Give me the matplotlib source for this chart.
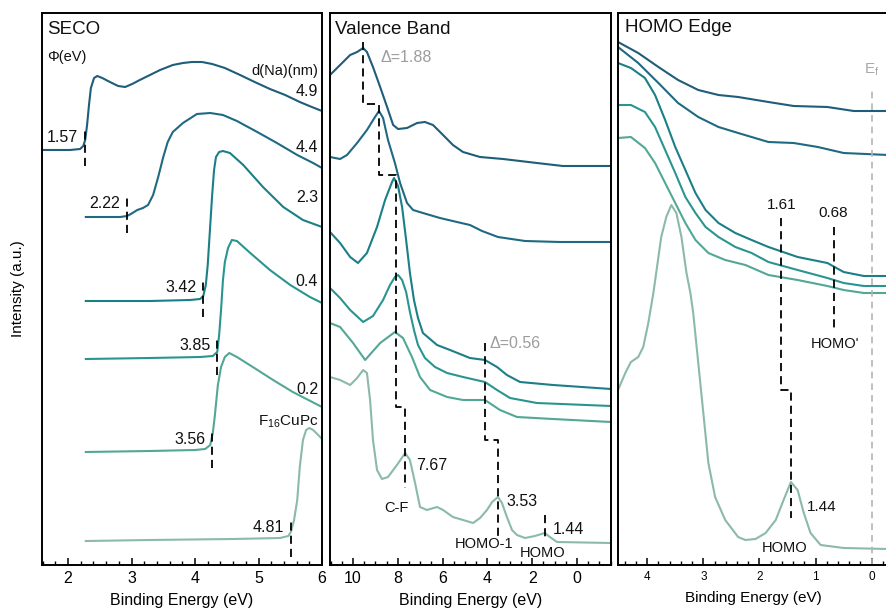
import matplotlib
matplotlib.use("Agg")
import matplotlib.pyplot as plt
from matplotlib.ticker import MultipleLocator

plt.rcParams['font.family'] = ['Liberation Sans', 'DejaVu Sans']
plt.rcParams['mathtext.fontset'] = 'custom'
plt.rcParams['mathtext.rm'] = 'Liberation Sans'
plt.rcParams['mathtext.it'] = 'Liberation Sans:italic'

# Na thickness (nm) for each spectrum, thickest first; last one is bare F16CuPc
thickness = ['4.9', '4.4', '2.3', '0.4', '0.2']
colors = ['#1f5d7a', '#1f6a82', '#1b7f88', '#2a9590', '#52a796', '#8bbaa8']

# ---- SECO spectra: binding energy (eV), intensity (a.u., stacked)
seco_x_49 = [1.59, 2.03, 2.19, 2.24, 2.27, 2.30, 2.33, 2.36, 2.41, 2.46, 2.54, 2.66, 2.79, 2.90, 3.01, 3.13,
             3.29, 3.45, 3.65, 3.81, 3.95, 4.11, 4.27, 4.47, 4.71, 4.94, 5.18, 5.42, 5.65, 5.84, 6.0]
seco_y_49 = [415, 415, 416, 419, 425, 440, 460, 477, 487, 489, 487, 483, 479, 478, 481, 485,
             490, 495, 500, 502, 503, 503, 501, 497, 490, 483, 476, 470, 463, 458, 454]
seco_x_44 = [2.28, 2.82, 2.93, 2.99, 3.09, 3.18, 3.26, 3.34, 3.42, 3.50, 3.57, 3.65, 3.81, 4.03, 4.24, 4.44,
             4.66, 4.98, 5.29, 5.61, 5.86, 6.0]
seco_y_44 = [348, 348, 349, 351, 355, 357, 360, 370, 388, 408, 423, 433, 442, 451, 452, 450,
             444, 433, 422, 410, 402, 397]
seco_x_23 = [2.28, 3.29, 3.92, 4.08, 4.13, 4.17, 4.20, 4.24, 4.27, 4.30, 4.33, 4.38, 4.44, 4.55, 4.76, 5.07,
             5.39, 5.70, 6.0]
seco_y_23 = [264, 264, 265, 266, 269, 280, 300, 340, 370, 395, 408, 413, 414, 412, 400, 378,
             358, 345, 338]
seco_x_04 = [2.28, 3.29, 4.08, 4.28, 4.35, 4.38, 4.41, 4.44, 4.47, 4.52, 4.58, 4.66, 4.87, 5.18, 5.50, 5.81, 6.0]
seco_y_04 = [206, 207, 208, 209, 213, 230, 255, 285, 303, 317, 325, 324, 312, 295, 280, 268, 262]
seco_x_02 = [2.28, 3.29, 4.0, 4.16, 4.24, 4.28, 4.31, 4.36, 4.41, 4.47, 4.54, 4.66, 4.91, 5.23, 5.54, 6.0]
seco_y_02 = [113, 114, 115, 116, 120, 132, 148, 180, 198, 208, 212, 208, 198, 185, 173, 158]
seco_x_pc = [2.28, 3.29, 4.60, 5.34, 5.47, 5.51, 5.56, 5.61, 5.65, 5.70, 5.75, 5.80, 5.86, 5.94, 6.0]
seco_y_pc = [24, 25, 26, 27, 29, 33, 45, 65, 98, 125, 135, 137, 135, 130, 126]

# work function labels and the cutoff position marked on each SECO
phi_labels = ['1.57', '2.22', '3.42', '3.85', '3.56', '4.81']
cutoff_x = [2.27, 2.93, 4.13, 4.35, 4.27, 5.51]

# ---- valence band spectra
vb_x_49 = [11.03, 10.58, 10.13, 9.82, 9.55, 9.38, 9.11, 8.79, 8.48, 8.21, 7.99, 7.59, 7.14, 6.79, 6.43, 5.98,
           5.54, 5.09, 4.33, 3.30, 1.79, 0.63, -1.52]
vb_y_49 = [490, 500, 510, 513, 517, 513, 498, 478, 458, 440, 436, 437, 442, 443, 440, 430,
           420, 413, 408, 406, 402, 399, 399]
vb_x_44 = [11.03, 10.58, 10.27, 9.82, 9.38, 9.02, 8.84, 8.66, 8.44, 8.13, 7.90, 7.59, 7.32, 6.88, 6.12, 5.36,
           4.78, 4.24, 3.53, 2.32, 0.76, -1.52]
vb_y_44 = [408, 406, 410, 422, 435, 448, 454, 447, 425, 402, 382, 362, 355, 352, 347, 343,
           340, 334, 328, 324, 323, 323]
vb_x_23 = [11.03, 10.58, 10.13, 9.78, 9.38, 8.93, 8.57, 8.26, 8.17, 7.99, 7.81, 7.63, 7.46, 7.28, 7.10, 6.88,
           6.25, 5.67, 4.78, 4.11, 3.57, 3.13, 2.54, 1.07, -1.52]
vb_y_23 = [333, 322, 308, 302, 312, 338, 365, 383, 387, 379, 358, 325, 292, 265, 247, 232,
           220, 215, 207, 205, 198, 190, 183, 180, 176]
vb_x_04 = [11.03, 10.58, 10.13, 9.55, 9.11, 8.66, 8.35, 8.13, 7.99, 7.81, 7.63, 7.46, 7.28, 7.10, 6.79, 6.34,
           5.80, 5.09, 4.11, 3.57, 2.99, 1.79, -1.52]
vb_y_04 = [277, 267, 255, 243, 249, 265, 280, 288, 290, 285, 273, 253, 235, 220, 207, 198,
           192, 188, 183, 175, 167, 162, 159]
vb_x_02 = [11.03, 10.58, 10.0, 9.46, 8.79, 8.13, 7.77, 7.37, 7.01, 6.56, 5.80, 5.09, 4.55, 4.11, 3.44, 2.68,
           1.07, -1.52]
vb_y_02 = [242, 238, 222, 205, 222, 233, 227, 208, 188, 175, 168, 165, 165, 165, 155, 148, 146, 143]
vb_x_pc = [11.03, 10.58, 10.13, 9.82, 9.55, 9.38, 9.24, 9.11, 8.93, 8.71, 8.44, 8.04, 7.67, 7.46, 7.23, 7.01,
           6.70, 6.25, 5.98, 5.54, 5.09, 4.64, 4.33, 4.02, 3.79, 3.53, 3.35, 3.13, 2.90, 2.68, 2.32, 1.88,
           1.44, 1.21, 0.89, -1.52]
vb_y_pc = [188, 185, 180, 187, 195, 192, 165, 125, 95, 86, 88, 100, 112, 105, 82, 58,
           55, 58, 55, 48, 45, 42, 47, 55, 63, 68, 62, 48, 35, 30, 27, 29,
           32, 28, 23, 22]

# peak positions (eV)
vb_peak_49 = 9.55
vb_peak_44 = 8.84
vb_peak_mid = 8.10
cf_peak = 7.67
homo1_na = 4.09
homo1_peak = 3.53
homo_peak = 1.44

# ---- HOMO edge region
he_x_49 = [4.52, 4.16, 3.80, 3.45, 3.09, 2.73, 2.38, 1.84, 1.39, 0.79, 0.32, -0.29]
he_y_49 = [523, 512, 498, 485, 475, 470, 468, 463, 459, 458, 454, 454]
he_x_44 = [4.52, 4.16, 3.80, 3.45, 3.09, 2.73, 2.38, 1.84, 1.39, 0.96, 0.50, -0.29]
he_y_44 = [518, 502, 482, 462, 448, 438, 432, 423, 422, 418, 412, 410]
he_x_23 = [4.52, 4.29, 4.04, 3.86, 3.68, 3.50, 3.32, 3.14, 2.96, 2.73, 2.43, 2.14, 1.84, 1.32, 0.79, 0.50,
           0.14, -0.29]
he_y_23 = [502, 497, 487, 470, 445, 418, 395, 372, 355, 342, 332, 325, 318, 308, 302, 293, 289, 289]
he_x_04 = [4.52, 4.29, 4.04, 3.86, 3.68, 3.50, 3.32, 3.14, 2.96, 2.73, 2.43, 2.14, 1.84, 1.32, 0.79, 0.50,
           0.14, -0.29]
he_y_04 = [460, 460, 453, 438, 415, 392, 368, 352, 338, 328, 318, 312, 303, 295, 287, 282, 279, 279]
he_x_02 = [4.52, 4.29, 4.04, 3.86, 3.68, 3.50, 3.32, 3.14, 2.91, 2.61, 2.25, 1.84, 1.32, 0.79, 0.50, 0.14, -0.29]
he_y_02 = [427, 428, 417, 402, 382, 362, 342, 325, 312, 305, 300, 290, 285, 279, 275, 272, 272]
he_x_pc = [4.52, 4.39, 4.29, 4.16, 4.07, 3.98, 3.89, 3.82, 3.75, 3.66, 3.57, 3.48, 3.39, 3.30, 3.23, 3.18,
           3.09, 3.00, 2.91, 2.79, 2.61, 2.38, 2.25, 2.07, 1.89, 1.71, 1.57, 1.44, 1.32, 1.21, 1.09, 0.91,
           0.50, -0.29]
he_y_pc = [175, 192, 203, 208, 218, 242, 272, 300, 328, 348, 360, 352, 328, 292, 272, 252,
           202, 152, 102, 68, 45, 28, 25, 26, 32, 45, 65, 83, 75, 52, 32, 20,
           17, 16]

homo_na = 1.61
homo_prime = 0.68

seco = [(seco_x_49, seco_y_49), (seco_x_44, seco_y_44), (seco_x_23, seco_y_23),
        (seco_x_04, seco_y_04), (seco_x_02, seco_y_02), (seco_x_pc, seco_y_pc)]
vb = [(vb_x_49, vb_y_49), (vb_x_44, vb_y_44), (vb_x_23, vb_y_23),
      (vb_x_04, vb_y_04), (vb_x_02, vb_y_02), (vb_x_pc, vb_y_pc)]
he = [(he_x_49, he_y_49), (he_x_44, he_y_44), (he_x_23, he_y_23),
      (he_x_04, he_y_04), (he_x_02, he_y_02), (he_x_pc, he_y_pc)]

fig = plt.figure(figsize=(8.87, 6.12), dpi=100)
bot, hgt = 47 / 612, 552 / 612
ax1 = fig.add_axes([42 / 887, bot, 280 / 887, hgt])
ax2 = fig.add_axes([330 / 887, bot, 281 / 887, hgt])
ax3 = fig.add_axes([618 / 887, bot, 270 / 887, hgt])

dash = dict(color='k', lw=1.3, dashes=(4.5, 2.8))
txt = '#111111'
grey = '#9c9c9c'


def style(ax, xlim, major, minor, tsize):
    ax.set_xlim(*xlim)
    ax.set_ylim(0, 552)
    ax.set_yticks([])
    ax.xaxis.set_major_locator(MultipleLocator(major))
    ax.xaxis.set_minor_locator(MultipleLocator(minor))
    ax.tick_params(axis='x', which='major', direction='in', length=5, width=1.1,
                   labelsize=tsize, pad=4, top=False)
    ax.tick_params(axis='x', which='minor', direction='in', length=2.8, width=1.0, top=False)
    for s in ax.spines.values():
        s.set_linewidth(1.4)


# ---------- SECO
style(ax1, (1.59, 6.0), 1, 0.2, 11.5)
ax1.set_xlabel('Binding Energy (eV)', fontsize=11.5, labelpad=5)
ax1.set_ylabel('Intensity (a.u.)', fontsize=11, labelpad=12)
for (x, y), c in zip(seco, colors):
    ax1.plot(x, y, color=c, lw=1.5, solid_joinstyle='round')
for (x, y), xc, lab in zip(seco, cutoff_x, phi_labels):
    base = y[0]
    ax1.plot([xc, xc], [base - 16, base + 21], **dash)
    ax1.text(xc - 0.11, base + 13, lab, fontsize=11.5, ha='right', va='center', color=txt)
label_y = [473, 418, 368, 283, 175]
for t, ly in zip(thickness, label_y):
    ax1.text(5.94, ly, t, fontsize=11.5, ha='right', va='center', color=txt)
ax1.text(5.94, 143, r'F$_{16}$CuPc', fontsize=11, ha='right', va='center', color=txt)
ax1.text(5.94, 494, 'd(Na)(nm)', fontsize=10.5, ha='right', va='center', color=txt)
ax1.text(1.67, 508, 'Φ(eV)', fontsize=10.5, ha='left', va='center', color=txt)
ax1.text(1.67, 536, 'SECO', fontsize=13.5, ha='left', va='center', color=txt)

# ---------- Valence band
style(ax2, (11.03, -1.52), 2, 0.5, 11.5)
ax2.set_xlabel('Binding Energy (eV)', fontsize=11.5, labelpad=5)
for (x, y), c in zip(vb, colors):
    ax2.plot(x, y, color=c, lw=1.5, solid_joinstyle='round')
ax2.plot([vb_peak_49, vb_peak_49, vb_peak_44, vb_peak_44, vb_peak_mid, vb_peak_mid, cf_peak, cf_peak],
         [523, 461, 461, 390, 390, 158, 158, 77], **dash)
ax2.plot([homo1_na, homo1_na, homo1_peak, homo1_peak], [222, 125, 125, 28], **dash)
ax2.plot([homo_peak, homo_peak], [50, 27], **dash)
ax2.text(10.8, 535, 'Valence Band', fontsize=13.5, ha='left', va='center', color=txt)
ax2.text(vb_peak_49 - 0.78, 508, 'Δ=%.2f' % (vb_peak_49 - cf_peak), fontsize=11.5, color=grey,
         ha='left', va='center')
ax2.text(homo1_na - 0.2, 221, 'Δ=%.2f' % (homo1_na - homo1_peak), fontsize=11.5, color=grey,
         ha='left', va='center')
ax2.text(cf_peak - 0.5, 100, '%.2f' % cf_peak, fontsize=11.5, ha='left', va='center', color=txt)
ax2.text(cf_peak + 0.4, 57, 'C-F', fontsize=10.5, ha='center', va='center', color=txt)
ax2.text(homo1_peak - 0.4, 63, '%.2f' % homo1_peak, fontsize=11.5, ha='left', va='center', color=txt)
ax2.text(homo1_peak + 0.6, 21, 'HOMO-1', fontsize=10.5, ha='center', va='center', color=txt)
ax2.text(homo_peak - 0.37, 35, '%.2f' % homo_peak, fontsize=11.5, ha='left', va='center', color=txt)
ax2.text(homo_peak + 0.1, 12, 'HOMO', fontsize=10.5, ha='center', va='center', color=txt)

# ---------- HOMO edge
style(ax3, (4.52, -0.29), 1, 0.2, 8.5)
ax3.set_xlabel('Binding Energy (eV)', fontsize=11, labelpad=6)
for (x, y), c in zip(he, colors):
    ax3.plot(x, y, color=c, lw=1.5, solid_joinstyle='round')
ax3.plot([0, 0], [0, 478], color='#b5b5b5', lw=1.2, dashes=(4, 3))
ax3.text(0, 495, r'E$_\mathrm{f}$', fontsize=11, color='#a8a8a8', ha='center', va='center')
ax3.plot([homo_na, homo_na, homo_peak, homo_peak], [347, 175, 175, 47], **dash)
ax3.plot([homo_prime, homo_prime], [338, 235], **dash)
ax3.text(homo_na, 360, '%.2f' % homo_na, fontsize=11, ha='center', va='center', color=txt)
ax3.text(homo_prime, 352, '%.2f' % homo_prime, fontsize=11, ha='center', va='center', color=txt)
ax3.text(homo_prime - 0.02, 221, "HOMO'", fontsize=10.5, ha='center', va='center', color=txt)
ax3.text(homo_peak - 0.28, 58, '%.2f' % homo_peak, fontsize=11, ha='left', va='center', color=txt)
ax3.text(homo_peak + 0.11, 17, 'HOMO', fontsize=10.5, ha='center', va='center', color=txt)
ax3.text(4.39, 537, 'HOMO Edge', fontsize=13.5, ha='left', va='center', color=txt)

fig.savefig('out.png', dpi=100)
